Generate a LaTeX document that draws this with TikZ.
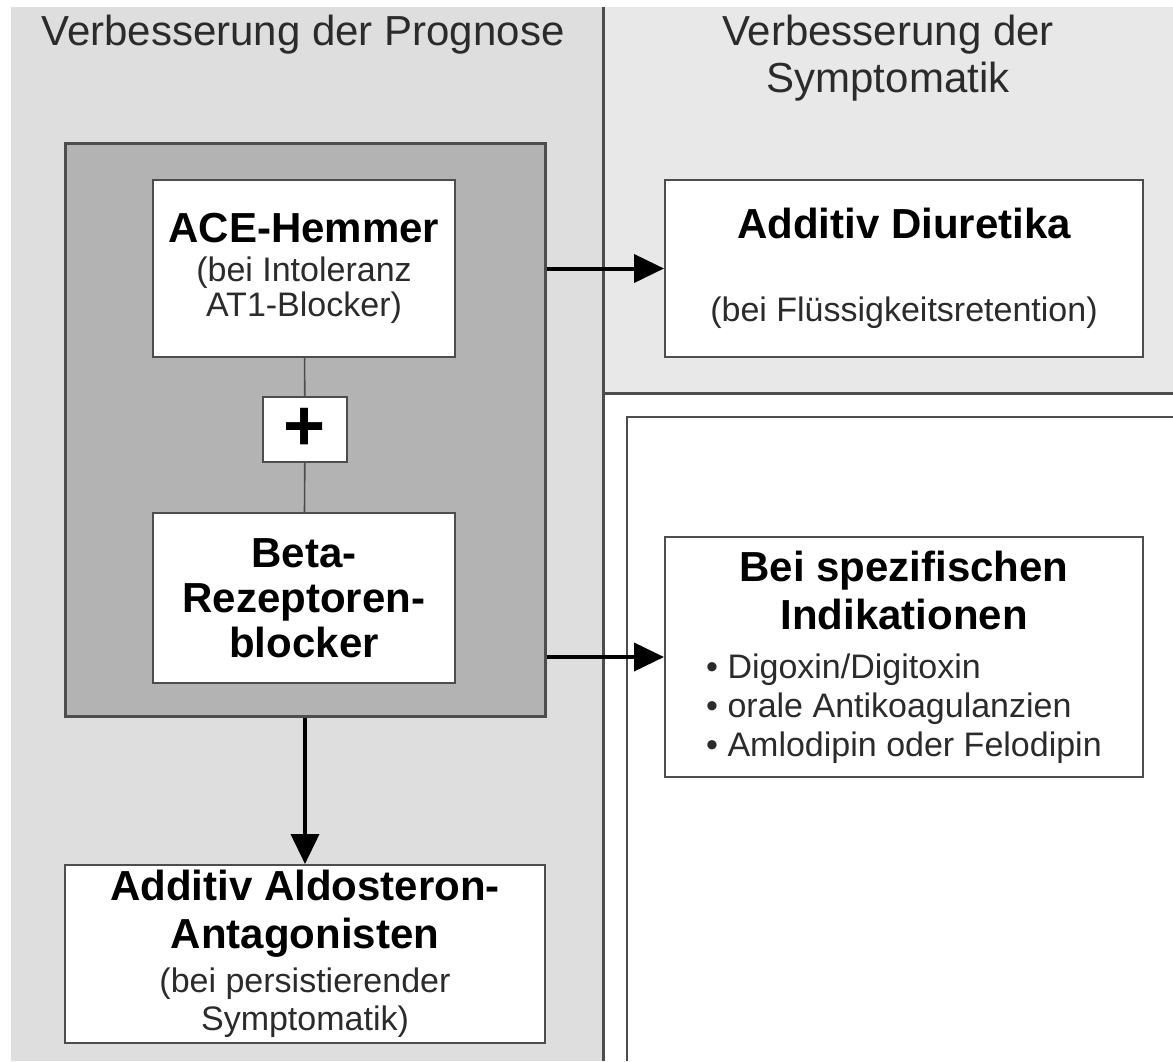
\documentclass[tikz,border=0pt]{standalone}
\usepackage{fontspec}
\setmainfont{Liberation Sans}
\usetikzlibrary{arrows.meta,positioning,calc}
\definecolor{prog}{HTML}{DEDEDE}
\definecolor{symp}{HTML}{E8E8E8}
\definecolor{group}{HTML}{B3B3B3}
\definecolor{edge}{HTML}{4D4D4D}
\definecolor{txt}{HTML}{2B2B2B}
\newcommand{\hd}[1]{{\bfseries\fontsize{21}{22.5}\selectfont #1}}
\newcommand{\sm}[1]{{\color{txt}\fontsize{17}{19.5}\selectfont #1}}
\tikzset{x=0.5pt,y=-0.5pt,box/.style={draw=edge,line width=1pt,fill=white,align=center,inner sep=0pt,font=\fontsize{21}{22.5}\selectfont},arrow/.style={-{Triangle[length=15pt,width=14pt]},line width=2pt},link/.style={draw=edge,line width=0.8pt},ttl/.style={font=\fontsize{21}{23.5}\selectfont,text=txt,align=center}}
\begin{document}
\begin{tikzpicture}
\useasboundingbox (0,0) rectangle (1173,1061);
% panels
\fill[prog] (11,7) rectangle (603,1061);
\fill[symp] (603,7) rectangle (1173,393);
\draw[edge,line width=1.5pt] (603,7) -- (603,1061);
\draw[edge,line width=1.5pt] (603,393) -- (1173,393);
\draw[edge,line width=1pt] (627,1061) |- (1173,417);
\node[ttl] (tprog) at (303,35) {Verbesserung der Prognose};
\node[ttl] (tsymp) at (888,58.5) {Verbesserung der\\Symptomatik};
% boxes
\node[draw=edge,line width=1.5pt,fill=group,minimum width=240pt,minimum height=286.5pt] (grp) at (305,429.5) {};
\node[box,minimum width=151pt,minimum height=88.5pt] (ace) at (304,268.5) {\hd{ACE-Hemmer}\\[-3pt]\sm{(bei Intoleranz}\\[-5pt]\sm{AT1-Blocker)}};
\node[box,minimum width=42pt,minimum height=32.5pt,font=\bfseries\fontsize{36}{36}\selectfont] (plus) at (305,429.5) {+};
\node[box,minimum width=151pt,minimum height=85pt] (beta) at (304,598) {\hd{Beta-}\\\hd{Rezeptoren-}\\\hd{blocker}};
\node[box,minimum width=240pt,minimum height=89pt] (aldo) at (305,954) {\hd{Additiv Aldosteron-}\\[1.5pt]\hd{Antagonisten}\\[-0.5pt]\sm{(bei persistierender}\\[-3.5pt]\sm{Symptomatik)}};
\node[box,minimum width=239pt,minimum height=88.5pt] (diur) at (904,268.5) {\hd{Additiv Diuretika}\\[19pt]\sm{(bei Flüssigkeitsretention)}};
\node[box,minimum width=239pt,minimum height=120pt] (indik) at (904,657) {\hd{Bei spezifischen}\\[1.5pt]\hd{Indikationen}\\[2pt]\sm{\begin{tabular}[t]{@{}l@{}}\textbullet\ Digoxin/Digitoxin\\\textbullet\ orale Antikoagulanzien\\\textbullet\ Amlodipin oder Felodipin\end{tabular}}\\[-4pt]};
% connectors
\draw[link] (ace) -- (plus);
\draw[link] (plus) -- (beta);
\foreach \t in {diur,indik}{\draw[arrow](grp.east |- \t.west)--(\t.west);}
\draw[arrow] (grp.south) -- (aldo.north);
\end{tikzpicture}
\end{document}
